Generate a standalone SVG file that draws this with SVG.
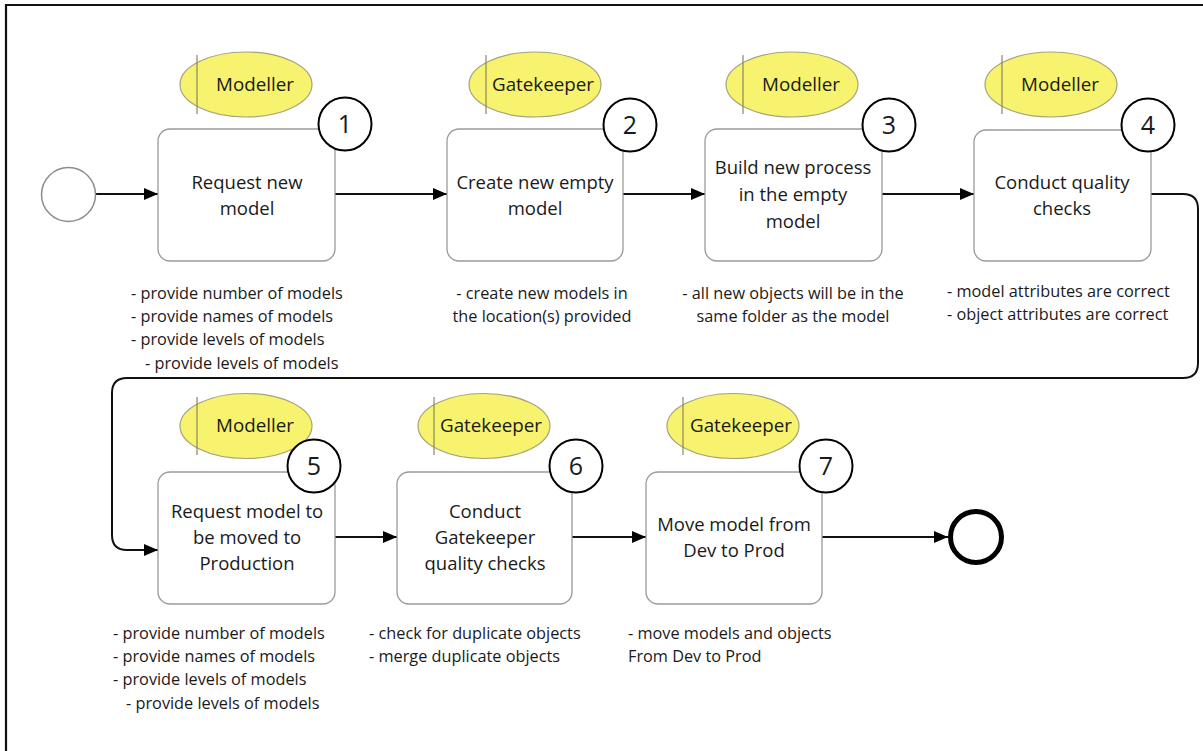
<svg xmlns="http://www.w3.org/2000/svg" width="1203" height="751" viewBox="0 0 1203 751">
<defs>
<marker id="arr" viewBox="0 0 14 12" refX="14" refY="6" markerWidth="14" markerHeight="12" markerUnits="userSpaceOnUse" orient="auto">
<path d="M0,0 L14,6 L0,12 Z" fill="#000"/>
</marker>
</defs>
<style>
text{font-family:"Open Sans","Liberation Sans",sans-serif;fill:#1a1a1a}
.task{fill:#fff;stroke:#9a9a9a;stroke-width:1.3}
.role{fill:#f7f36e;stroke:#a5a27a;stroke-width:1.2}
.rl{stroke:#8a875e;stroke-width:1.2}
.badge{fill:#fff;stroke:#000;stroke-width:2}
.t{font-size:18.5px;text-anchor:middle}
.rt{font-size:18.8px;text-anchor:middle}
.bn{font-size:25px;text-anchor:middle}
.note{font-size:16.3px}
.notec{font-size:16.3px;text-anchor:middle}
.conn{fill:none;stroke:#111;stroke-width:2}
</style>
<rect width="1203" height="751" fill="#fff"/>
<path d="M6,751 V5 H1203" fill="none" stroke="#111" stroke-width="2.2"/>

<g id="connectors">
<path class="conn" d="M96,194 H158" marker-end="url(#arr)"/>
<path class="conn" d="M335,194 H447" marker-end="url(#arr)"/>
<path class="conn" d="M623,194 H705" marker-end="url(#arr)"/>
<path class="conn" d="M882,194 H974" marker-end="url(#arr)"/>
<path class="conn" d="M1151,194 H1183 Q1198,194 1198,209 V363 Q1198,378 1183,378 H127 Q112,378 112,393 V535 Q112,550 127,550 H158" marker-end="url(#arr)"/>
<path class="conn" d="M335,537 H397" marker-end="url(#arr)"/>
<path class="conn" d="M572,537 H646" marker-end="url(#arr)"/>
<path class="conn" d="M822,537 H948" marker-end="url(#arr)"/>
</g>

<g id="start">
<circle cx="68.5" cy="194.5" r="27" fill="#fff" stroke="#8c8c8c" stroke-width="1.5"/>
</g>

<g id="task1">
<ellipse class="role" cx="246" cy="84.5" rx="66" ry="32.5"/>
<line class="rl" x1="197" y1="55" x2="197" y2="114"/>
<text class="rt" x="255" y="91">Modeller</text>
<rect class="task" x="158" y="129" width="177" height="132" rx="12"/>
<text class="t" x="247" y="189">Request new</text>
<text class="t" x="247" y="215">model</text>
<circle class="badge" cx="345" cy="124" r="26.5"/>
<text class="bn" x="345" y="133">1</text>
<text class="note" x="131" y="299">- provide number of models</text>
<text class="note" x="131" y="322">- provide names of models</text>
<text class="note" x="131" y="345">- provide levels of models</text>
<text class="note" x="145" y="369">- provide levels of models</text>
</g>

<g id="task2">
<ellipse class="role" cx="535" cy="84.5" rx="66" ry="32.5"/>
<line class="rl" x1="486" y1="55" x2="486" y2="114"/>
<text class="rt" x="543" y="91">Gatekeeper</text>
<rect class="task" x="447" y="129" width="176" height="132" rx="12"/>
<text class="t" x="535" y="189">Create new empty</text>
<text class="t" x="535" y="215">model</text>
<circle class="badge" cx="630" cy="125" r="26.5"/>
<text class="bn" x="630" y="134">2</text>
<text class="notec" x="542" y="299">- create new models in</text>
<text class="notec" x="542" y="322">the location(s) provided</text>
</g>

<g id="task3">
<ellipse class="role" cx="792" cy="84.5" rx="66" ry="32.5"/>
<line class="rl" x1="743" y1="55" x2="743" y2="114"/>
<text class="rt" x="801" y="91">Modeller</text>
<rect class="task" x="705" y="129" width="177" height="132" rx="12"/>
<text class="t" x="793" y="174">Build new process</text>
<text class="t" x="793" y="201">in the empty</text>
<text class="t" x="793" y="228">model</text>
<circle class="badge" cx="889" cy="125" r="26.5"/>
<text class="bn" x="889" y="134">3</text>
<text class="notec" x="793" y="299">- all new objects will be in the</text>
<text class="notec" x="793" y="322">same folder as the model</text>
</g>

<g id="task4">
<ellipse class="role" cx="1051" cy="84.5" rx="66" ry="32.5"/>
<line class="rl" x1="1002" y1="55" x2="1002" y2="114"/>
<text class="rt" x="1060" y="91">Modeller</text>
<rect class="task" x="974" y="130" width="177" height="131" rx="12"/>
<text class="t" x="1062" y="189">Conduct quality</text>
<text class="t" x="1062" y="215">checks</text>
<circle class="badge" cx="1148" cy="125" r="26.5"/>
<text class="bn" x="1148" y="134">4</text>
<text class="note" x="947" y="297">- model attributes are correct</text>
<text class="note" x="947" y="320">- object attributes are correct</text>
</g>

<g id="task5">
<ellipse class="role" cx="246" cy="426" rx="66" ry="32.5"/>
<line class="rl" x1="197" y1="397" x2="197" y2="455"/>
<text class="rt" x="255" y="432">Modeller</text>
<rect class="task" x="158" y="472" width="177" height="132" rx="12"/>
<text class="t" x="247" y="518">Request model to</text>
<text class="t" x="247" y="544">be moved to</text>
<text class="t" x="247" y="570">Production</text>
<circle class="badge" cx="314" cy="466" r="26.5"/>
<text class="bn" x="314" y="475">5</text>
<text class="note" x="113" y="639">- provide number of models</text>
<text class="note" x="113" y="662">- provide names of models</text>
<text class="note" x="113" y="685">- provide levels of models</text>
<text class="note" x="126" y="709">- provide levels of models</text>
</g>

<g id="task6">
<ellipse class="role" cx="484" cy="426" rx="66" ry="32.5"/>
<line class="rl" x1="434" y1="397" x2="434" y2="455"/>
<text class="rt" x="491" y="432">Gatekeeper</text>
<rect class="task" x="397" y="472" width="175" height="132" rx="12"/>
<text class="t" x="485" y="518">Conduct</text>
<text class="t" x="485" y="544">Gatekeeper</text>
<text class="t" x="485" y="570">quality checks</text>
<circle class="badge" cx="576" cy="466" r="26.5"/>
<text class="bn" x="576" y="475">6</text>
<text class="note" x="369" y="639">- check for duplicate objects</text>
<text class="note" x="369" y="662">- merge duplicate objects</text>
</g>

<g id="task7">
<ellipse class="role" cx="733" cy="426" rx="66" ry="32.5"/>
<line class="rl" x1="683" y1="397" x2="683" y2="455"/>
<text class="rt" x="741" y="432">Gatekeeper</text>
<rect class="task" x="646" y="472" width="176" height="132" rx="12"/>
<text class="t" x="734" y="531">Move model from</text>
<text class="t" x="734" y="557">Dev to Prod</text>
<circle class="badge" cx="826" cy="466" r="26.5"/>
<text class="bn" x="826" y="475">7</text>
<text class="note" x="628" y="639">- move models and objects</text>
<text class="note" x="628" y="662">From Dev to Prod</text>
</g>

<g id="end">
<circle cx="976" cy="537" r="25.5" fill="#fff" stroke="#000" stroke-width="5"/>
</g>
</svg>
